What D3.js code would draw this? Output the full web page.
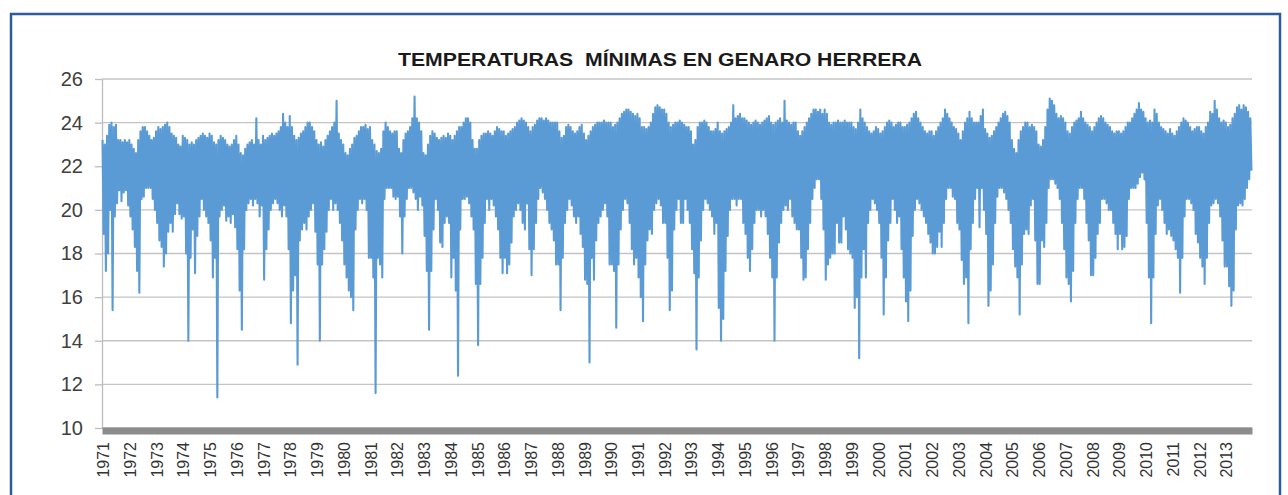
<!DOCTYPE html>
<html>
<head>
<meta charset="utf-8">
<script src="https://cdn.jsdelivr.net/npm/d3@7"></script>
<style>
    body { margin: 0; background: #fff; }
    #chart-area { width: 1288px; height: 495px; }
</style>
</head>
<body>
<div id="chart-area"></div>
<script>

// chart data (monthly highest / lowest daily minimum, °C)
const chartTitle = "TEMPERATURAS  MÍNIMAS EN GENARO HERRERA";

const years = [1971, 1972, 1973, 1974, 1975, 1976, 1977, 1978, 1979, 1980, 1981, 1982, 1983, 1984, 1985,
    1986, 1987, 1988, 1989, 1990, 1991, 1992, 1993, 1994, 1995, 1996, 1997, 1998, 1999, 2000, 2001, 2002,
    2003, 2004, 2005, 2006, 2007, 2008, 2009, 2010, 2011, 2012, 2013];

const yTicks = [10, 12, 14, 16, 18, 20, 22, 24, 26];

const monthlyHigh = [
    [23.2, 23.0, 23.4, 23.9, 24.0, 23.8, 23.9, 23.2, 23.2, 23.1, 23.2, 23.1], // 1971
    [23.2, 23.0, 22.8, 22.6, 23.2, 23.6, 23.8, 23.8, 23.6, 23.4, 23.2, 23.3],
    [23.6, 23.8, 23.7, 23.8, 23.9, 24.0, 23.8, 23.5, 23.4, 23.3, 23.0, 22.9],
    [23.4, 23.3, 23.2, 23.0, 23.1, 23.0, 23.2, 23.3, 23.4, 23.5, 23.4, 23.3],
    [23.5, 23.4, 23.1, 23.0, 23.2, 23.4, 23.3, 23.2, 23.0, 22.9, 23.0, 23.2], // 1975
    [23.4, 23.0, 22.6, 22.5, 22.8, 23.0, 23.1, 23.2, 23.0, 24.2, 23.2, 23.0],
    [23.4, 23.2, 23.3, 23.4, 23.5, 23.4, 23.5, 23.6, 23.8, 24.4, 24.0, 23.8],
    [24.3, 23.8, 23.4, 23.2, 23.3, 23.5, 23.6, 23.8, 24.0, 24.0, 23.8, 23.6],
    [23.2, 23.0, 23.1, 22.9, 23.2, 23.4, 23.6, 23.8, 24.0, 25.0, 23.5, 23.2],
    [23.0, 22.6, 22.5, 22.8, 23.0, 23.3, 23.4, 23.6, 23.8, 23.8, 23.9, 23.7], // 1980
    [23.8, 23.2, 23.0, 22.7, 22.6, 22.8, 23.6, 24.0, 23.8, 23.6, 23.5, 23.6],
    [23.6, 22.8, 22.6, 23.2, 23.5, 23.6, 23.8, 24.2, 25.2, 24.2, 24.0, 23.6],
    [22.6, 22.5, 23.0, 23.4, 23.6, 23.5, 23.3, 23.2, 23.3, 23.4, 23.3, 23.5],
    [23.4, 23.2, 23.4, 23.6, 23.8, 23.8, 24.0, 24.2, 24.2, 24.0, 23.2, 22.8],
    [22.8, 23.2, 23.4, 23.5, 23.5, 23.6, 23.5, 23.4, 23.6, 23.8, 23.7, 23.6], // 1985
    [23.6, 23.4, 23.5, 23.6, 23.7, 23.8, 24.0, 24.1, 24.2, 24.1, 24.0, 23.8],
    [23.6, 23.8, 23.9, 24.1, 24.2, 24.2, 24.1, 24.2, 24.1, 24.0, 24.0, 24.0],
    [24.0, 23.6, 23.3, 23.4, 23.8, 23.9, 23.8, 23.6, 23.5, 23.6, 23.8, 23.9],
    [23.5, 23.2, 23.4, 23.6, 23.8, 23.9, 24.0, 24.0, 24.0, 24.1, 24.0, 24.0],
    [24.0, 23.8, 23.9, 24.0, 24.2, 24.4, 24.5, 24.6, 24.6, 24.5, 24.4, 24.3], // 1990
    [24.4, 24.2, 23.8, 23.8, 23.7, 23.8, 24.0, 24.4, 24.7, 24.8, 24.7, 24.6],
    [24.6, 24.4, 24.0, 23.8, 23.9, 24.0, 24.0, 24.1, 24.0, 23.9, 23.8, 23.8],
    [23.6, 23.0, 23.2, 23.8, 24.0, 24.0, 24.1, 24.0, 23.8, 23.6, 23.6, 23.7],
    [24.0, 23.6, 23.5, 23.6, 23.7, 23.8, 24.0, 24.8, 24.2, 24.3, 24.4, 24.2],
    [24.2, 24.1, 24.0, 23.9, 24.0, 24.1, 24.0, 23.9, 24.0, 24.1, 24.2, 24.3], // 1995
    [24.0, 23.9, 24.0, 24.1, 24.2, 24.0, 25.0, 24.1, 24.0, 23.9, 24.0, 24.0],
    [23.6, 23.4, 23.6, 23.8, 24.0, 24.2, 24.4, 24.6, 24.6, 24.5, 24.6, 24.4],
    [24.6, 24.4, 24.0, 23.9, 24.0, 24.0, 24.1, 24.0, 24.0, 24.1, 24.0, 24.0],
    [24.0, 23.8, 23.7, 24.0, 24.6, 24.2, 24.0, 23.8, 23.6, 23.5, 23.6, 23.8],
    [23.7, 23.5, 23.6, 23.8, 24.0, 24.1, 24.0, 23.8, 23.9, 24.0, 24.0, 23.8], // 2000
    [23.8, 23.9, 24.0, 24.2, 24.4, 24.5, 24.2, 24.0, 23.8, 23.6, 23.5, 23.6],
    [23.6, 23.4, 23.6, 23.8, 24.0, 24.2, 24.6, 24.4, 24.2, 24.0, 23.8, 23.7],
    [23.5, 23.2, 23.6, 24.0, 24.2, 24.5, 24.2, 24.0, 24.0, 24.0, 24.3, 24.6],
    [23.7, 23.5, 23.3, 23.4, 23.6, 23.8, 24.0, 24.2, 24.4, 24.5, 24.3, 24.0],
    [23.2, 22.8, 22.6, 23.2, 23.6, 23.8, 24.0, 24.0, 23.8, 23.9, 23.8, 23.6], // 2005
    [23.0, 22.9, 23.2, 23.8, 24.6, 25.1, 25.0, 24.8, 24.4, 24.2, 24.3, 24.2],
    [24.0, 23.6, 23.5, 23.8, 24.0, 24.1, 24.2, 24.5, 24.2, 24.0, 23.9, 23.8],
    [23.6, 23.8, 24.0, 24.2, 24.3, 24.2, 24.0, 23.9, 23.8, 23.6, 23.5, 23.6],
    [23.6, 23.5, 23.6, 23.8, 24.0, 24.0, 24.2, 24.4, 24.6, 24.9, 24.6, 24.5],
    [24.2, 24.0, 24.1, 24.0, 24.6, 24.4, 24.0, 23.8, 23.7, 23.6, 23.5, 23.7], // 2010
    [23.5, 23.4, 23.6, 23.8, 24.0, 24.2, 24.1, 24.0, 23.8, 23.6, 23.7, 23.8],
    [23.8, 23.6, 23.5, 23.8, 24.0, 24.5, 24.4, 25.0, 24.6, 24.2, 24.0, 24.1],
    [24.0, 23.8, 23.9, 24.2, 24.4, 24.7, 24.8, 24.6, 24.8, 24.7, 24.5, 24.2]  // 2013
];

const monthlyLow = [
    [18.9, 17.2, 18.0, 20.0, 15.4, 19.7, 20.3, 20.9, 20.4, 20.8, 20.9, 20.2], // 1971
    [19.7, 19.1, 18.3, 17.2, 16.2, 20.5, 20.6, 21.0, 21.0, 21.0, 20.5, 20.0],
    [19.4, 18.6, 18.3, 17.4, 18.0, 19.0, 19.4, 19.0, 19.8, 20.3, 19.8, 19.6],
    [19.7, 18.0, 14.0, 17.8, 19.1, 17.1, 18.8, 19.7, 20.5, 20.0, 19.7, 19.4],
    [18.6, 16.9, 17.8, 11.4, 19.7, 20.0, 20.2, 19.5, 19.7, 19.4, 19.8, 19.2], // 1975
    [18.2, 16.3, 14.5, 18.2, 20.0, 20.3, 20.5, 20.2, 20.5, 20.3, 19.7, 20.2],
    [16.8, 18.2, 19.1, 20.0, 20.3, 20.5, 20.3, 20.0, 19.7, 20.2, 19.7, 18.2],
    [14.8, 16.3, 17.0, 12.9, 18.6, 19.1, 19.4, 19.1, 19.7, 20.0, 20.3, 19.0],
    [17.5, 14.0, 17.5, 18.2, 19.0, 20.0, 20.5, 20.0, 20.3, 20.0, 19.4, 18.6],
    [17.5, 16.9, 16.3, 16.0, 15.4, 19.1, 20.0, 20.5, 20.3, 20.5, 20.0, 17.8], // 1980
    [17.8, 16.9, 11.6, 17.8, 17.5, 16.9, 20.5, 21.0, 21.0, 21.0, 20.6, 20.5],
    [20.6, 19.7, 18.0, 19.7, 20.5, 21.0, 21.0, 20.8, 20.5, 20.0, 20.6, 20.2],
    [18.8, 17.2, 14.5, 17.2, 19.1, 20.5, 20.0, 18.5, 18.3, 19.4, 19.7, 19.4],
    [16.9, 17.8, 16.3, 12.4, 19.1, 20.5, 20.5, 20.6, 20.3, 19.7, 19.1, 16.6],
    [13.8, 16.6, 17.8, 19.4, 20.5, 20.0, 20.5, 20.2, 19.7, 19.1, 17.8, 17.1], // 1985
    [17.8, 17.1, 17.5, 18.5, 19.7, 20.0, 20.3, 20.0, 19.4, 19.1, 20.3, 18.2],
    [17.0, 18.2, 19.4, 20.5, 21.0, 20.8, 20.5, 20.0, 19.4, 19.1, 18.6, 17.5],
    [17.5, 15.4, 17.8, 19.4, 20.0, 20.5, 20.2, 19.7, 19.4, 19.7, 18.9, 18.3],
    [16.8, 16.6, 13.0, 17.8, 16.8, 18.6, 19.4, 19.7, 20.0, 20.3, 19.7, 17.5],
    [17.5, 17.2, 14.6, 17.5, 19.1, 20.0, 20.5, 20.3, 19.4, 18.2, 17.5, 17.8], // 1990
    [16.9, 16.0, 14.9, 17.5, 18.6, 19.1, 18.9, 20.0, 20.3, 20.5, 20.2, 19.4],
    [19.4, 17.8, 15.4, 16.3, 19.1, 20.0, 20.5, 19.4, 19.4, 20.5, 20.0, 19.4],
    [18.2, 17.1, 13.6, 16.9, 18.6, 20.0, 20.5, 20.3, 20.0, 19.7, 18.9, 19.4],
    [15.5, 14.0, 15.0, 17.2, 18.8, 20.0, 20.5, 20.5, 20.2, 20.5, 20.5, 19.4],
    [18.9, 17.8, 17.2, 18.2, 19.4, 20.0, 20.0, 19.7, 20.0, 19.7, 18.9, 17.8], // 1995
    [16.9, 14.0, 16.9, 18.5, 19.4, 20.0, 20.2, 20.0, 20.5, 19.7, 19.4, 19.1],
    [19.1, 17.8, 16.8, 16.9, 18.2, 19.4, 20.5, 21.0, 21.4, 21.4, 20.5, 19.1],
    [16.8, 17.5, 17.8, 18.0, 18.0, 19.4, 18.5, 18.5, 19.7, 19.1, 18.2, 18.0],
    [17.8, 15.5, 16.0, 13.2, 16.9, 18.2, 16.9, 19.4, 20.0, 20.5, 20.3, 20.0],
    [19.4, 17.8, 15.2, 16.9, 18.6, 19.4, 20.5, 20.0, 19.4, 19.7, 18.2, 16.9], // 2000
    [15.8, 14.9, 16.3, 18.8, 20.0, 20.5, 20.3, 20.0, 19.7, 19.4, 18.9, 18.5],
    [18.0, 18.0, 18.3, 19.0, 18.3, 19.4, 20.5, 21.0, 21.0, 20.6, 20.5, 19.4],
    [19.1, 17.7, 16.6, 16.9, 14.8, 18.2, 19.4, 20.5, 21.0, 19.2, 21.0, 20.0],
    [18.9, 15.6, 16.3, 17.5, 19.4, 20.6, 21.0, 21.0, 20.8, 20.5, 20.0, 19.4],
    [18.2, 17.4, 16.9, 15.2, 17.5, 18.9, 19.1, 18.9, 20.2, 20.5, 18.6, 16.6], // 2005
    [16.6, 18.6, 18.3, 19.4, 21.0, 21.4, 21.4, 21.2, 21.0, 20.5, 19.4, 18.2],
    [16.9, 16.6, 15.8, 17.2, 19.4, 20.5, 21.0, 21.0, 20.5, 19.4, 18.6, 17.0],
    [17.0, 17.8, 18.9, 19.4, 20.5, 20.5, 20.3, 20.0, 20.0, 19.4, 18.9, 18.2],
    [18.9, 18.2, 18.3, 18.8, 20.5, 21.0, 21.0, 21.0, 21.2, 21.5, 21.7, 21.4],
    [19.4, 16.9, 14.8, 16.9, 18.9, 20.2, 20.5, 20.0, 19.4, 18.9, 19.1, 18.8], // 2010
    [18.6, 18.2, 17.8, 16.2, 17.8, 19.7, 20.5, 20.5, 20.3, 20.0, 18.9, 18.5],
    [17.8, 17.4, 16.6, 17.8, 19.4, 20.2, 20.3, 20.5, 20.3, 19.7, 18.6, 17.4],
    [17.4, 16.5, 15.6, 16.3, 19.1, 20.2, 20.3, 20.2, 20.5, 21.0, 21.4, 21.8]  // 2013
];

/* * * * * * * * * * * * * *
*       Temperature        *
* * * * * * * * * * * * * */

class TempVis {
    constructor(parentElement, years, highData, lowData) {
        this.parentElement = parentElement;
        this.years = years;
        this.highData = highData;
        this.lowData = lowData;

        this.initVis()
    }

    initVis() {
        let vis = this;

        // margin conventions
        vis.margin = {top: 79, right: 36, bottom: 67, left: 102};
        vis.width = 1288 - vis.margin.left - vis.margin.right;
        vis.height = 495 - vis.margin.top - vis.margin.bottom;

        vis.svg = d3.select("#" + vis.parentElement).append("svg")
            .attr("width", 1288)
            .attr("height", 495)
            .style("font-family", "'Liberation Sans', Arial, sans-serif");

        // blue frame round the figure
        vis.svg.append("rect")
            .attr("x", 11)
            .attr("y", 14)
            .attr("width", 1269)
            .attr("height", 520)
            .attr("fill", "none")
            .attr("stroke", "#2d5c98")
            .attr("stroke-width", 2.5);

        vis.g = vis.svg.append("g")
            .attr("transform", `translate(${vis.margin.left}, ${vis.margin.top})`);

        vis.x = d3.scaleLinear()
            .domain([vis.years[0], vis.years[vis.years.length - 1] + 1])
            .range([0, vis.width]);

        vis.y = d3.scaleLinear()
            .domain([yTicks[0], yTicks[yTicks.length - 1]])
            .range([vis.height, 0]);

        vis.wrangleData();
    }

    wrangleData() {
        let vis = this;

        // one high and one low point per month, in time order
        vis.displayData = [];
        vis.years.forEach((yr, i) => {
            vis.highData[i].forEach((hi, m) => {
                vis.displayData.push({t: yr + (m + 0.25) / 12, v: hi});
                vis.displayData.push({t: yr + (m + 0.75) / 12, v: vis.lowData[i][m]});
            });
        });

        vis.updateVis();
    }

    updateVis() {
        let vis = this;

        // horizontal gridlines
        vis.g.selectAll(".grid")
            .data(yTicks)
            .enter().append("line")
            .attr("class", "grid")
            .attr("x1", 0)
            .attr("x2", vis.width)
            .attr("y1", d => vis.y(d))
            .attr("y2", d => vis.y(d))
            .attr("stroke", "#c4c4c4")
            .attr("stroke-width", 1.3);

        // y axis
        let yAxis = d3.axisLeft(vis.y)
            .tickValues(yTicks)
            .tickSize(7)
            .tickSizeOuter(0)
            .tickPadding(12);

        let yG = vis.g.append("g").call(yAxis);
        yG.select(".domain").attr("stroke", "#bdbdbd").attr("stroke-width", 1.3);
        yG.selectAll(".tick line").attr("stroke", "#bdbdbd").attr("stroke-width", 1.3);
        yG.selectAll("text")
            .attr("fill", "#404040")
            .style("font-size", "20px")
            .style("font-family", "'Liberation Sans', Arial, sans-serif");

        // series
        let line = d3.line()
            .x(d => vis.x(d.t))
            .y(d => vis.y(d.v));

        vis.g.append("path")
            .datum(vis.displayData)
            .attr("d", line)
            .attr("fill", "none")
            .attr("stroke", "#5b9bd5")
            .attr("stroke-width", 2.1)
            .attr("stroke-linejoin", "round");

        // x axis with thick grey base line
        let xAxis = d3.axisBottom(vis.x)
            .tickValues(vis.years)
            .tickSize(0)
            .tickSizeOuter(0)
            .tickFormat(d3.format("d"));

        let xG = vis.g.append("g")
            .attr("transform", `translate(0, ${vis.height})`)
            .call(xAxis);

        xG.select(".domain")
            .attr("stroke", "#8c8c8c")
            .attr("stroke-width", 7)
            .attr("transform", "translate(0, 2.5)");

        xG.selectAll("text")
            .attr("transform", "rotate(-90)")
            .attr("x", -14)
            .attr("y", 1)
            .attr("dy", "0.35em")
            .attr("text-anchor", "end")
            .attr("fill", "#333333")
            .style("font-size", "16px")
            .style("font-family", "'Liberation Sans', Arial, sans-serif");

        // title
        vis.svg.append("text")
            .attr("x", 660)
            .attr("y", 66)
            .attr("text-anchor", "middle")
            .attr("textLength", 524)
            .attr("lengthAdjust", "spacingAndGlyphs")
            .style("white-space", "pre")
            .style("font-size", "19px")
            .style("font-weight", "bold")
            .attr("fill", "#1a1a1a")
            .text(chartTitle);
    }
}

let tempVis = new TempVis("chart-area", years, monthlyHigh, monthlyLow);

</script>
</body>
</html>
